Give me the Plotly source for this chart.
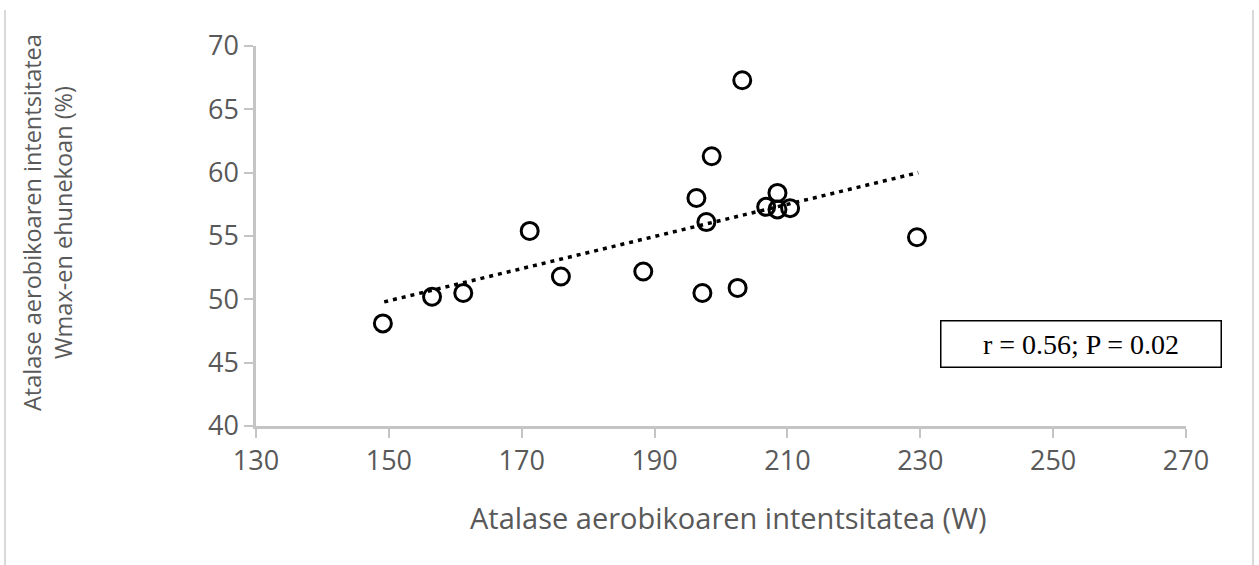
import plotly.graph_objects as go

# Data
power_w = [149.1, 156.5, 161.2, 171.2, 175.9, 188.3, 196.3, 197.2, 197.8, 198.6,
           202.5, 203.2, 206.8, 208.5, 208.5, 210.4, 229.5]
pct_wmax = [48.1, 50.2, 50.5, 55.4, 51.8, 52.2, 58.0, 50.5, 56.1, 61.3,
            50.9, 67.3, 57.3, 58.4, 57.1, 57.2, 54.9]

trend_x = [149.3, 229.7]
trend_y = [49.8, 60.0]

x_ticks = [130, 150, 170, 190, 210, 230, 250, 270]
y_ticks = [40, 45, 50, 55, 60, 65, 70]

stat_text = "r = 0.56; P = 0.02"
x_title = "Atalase aerobikoaren intentsitatea (W)"
y_title = "Atalase aerobikoaren intentsitatea<br>Wmax-en ehunekoan (%)"

W, H = 1259, 565
L, R, T, B = 256, 73, 46, 139
pw, ph = W - L - R, H - T - B

def px_x(p):
    return (p - L) / pw

def px_y(p):
    return (H - B - p) / ph

fig = go.Figure()

fig.add_trace(go.Scatter(
    x=trend_x, y=trend_y, mode="lines",
    line=dict(color="black", width=3.5, dash="4px,5px"),
    hoverinfo="skip", showlegend=False,
))

fig.add_trace(go.Scatter(
    x=power_w, y=pct_wmax, mode="markers",
    marker=dict(symbol="circle-open", size=17, color="black",
                line=dict(color="black", width=3)),
    showlegend=False,
))

axis_common = dict(
    showgrid=False, zeroline=False, showline=True,
    linecolor="#c4c4c4", linewidth=2.5,
    ticks="outside", ticklen=9, tickwidth=2, tickcolor="#c4c4c4",
    tickfont=dict(family="Open Sans", size=27, color="#595959"),
)

fig.update_xaxes(range=[130, 270], tickvals=x_ticks, **axis_common)
fig.update_yaxes(range=[40, 70], tickvals=y_ticks, **axis_common)

fig.add_annotation(
    x=px_x(728), y=px_y(517), xref="paper", yref="paper",
    text=x_title, showarrow=False, xanchor="center", yanchor="middle",
    font=dict(family="Open Sans", size=29, color="#595959"),
)
fig.add_annotation(
    x=px_x(47), y=px_y(223), xref="paper", yref="paper",
    text=y_title, showarrow=False, textangle=-90,
    xanchor="center", yanchor="middle",
    font=dict(family="Open Sans", size=23.5, color="#595959"),
)
fig.add_annotation(
    x=px_x(1081), y=px_y(344), xref="paper", yref="paper",
    text=stat_text, showarrow=False, xanchor="center", yanchor="middle",
    font=dict(family="Liberation Serif", size=28, color="black"),
    bordercolor="black", borderwidth=1.5, borderpad=7,
    bgcolor="white", width=265,
)

# light frame lines at the left and right edges of the picture
for ex in (5, 1253):
    fig.add_shape(type="line", xref="paper", yref="paper",
                  x0=px_x(ex), x1=px_x(ex), y0=px_y(10), y1=px_y(565),
                  line=dict(color="#d9d9d9", width=2))

fig.update_layout(
    width=W, height=H,
    margin=dict(l=L, r=R, t=T, b=B),
    plot_bgcolor="white", paper_bgcolor="white",
)

fig.write_html("out.html")
